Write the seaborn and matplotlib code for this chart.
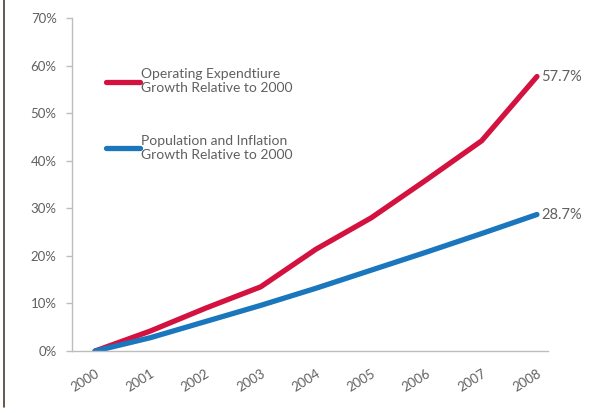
import matplotlib
matplotlib.use("Agg")
import matplotlib.pyplot as plt
import seaborn as sns
import pandas as pd
from matplotlib.lines import Line2D
from matplotlib.ticker import FuncFormatter, FixedLocator

years = [2000, 2001, 2002, 2003, 2004, 2005, 2006, 2007, 2008]
opex_growth = [0.0, 4.2, 9.0, 13.5, 21.4, 28.0, 36.0, 44.2, 57.7]
popinf_growth = [0.0, 2.8, 6.2, 9.6, 13.2, 17.0, 20.8, 24.7, 28.7]
series_names = ["Operating Expendtiure\nGrowth Relative to 2000",
                "Population and Inflation\nGrowth Relative to 2000"]
end_labels = ["57.7%", "28.7%"]
y_ticks = [0, 10, 20, 30, 40, 50, 60, 70]

colors = ["#d3123f", "#1a76bd"]
text_col = "#606060"
axis_col = "#bdbdbd"

df = pd.DataFrame({
    "year": years * 2,
    "value": opex_growth + popinf_growth,
    "series": [series_names[0]] * len(years) + [series_names[1]] * len(years),
})

sns.set_style("white")
plt.rcParams["font.family"] = ["Lato", "DejaVu Sans"]

fig = plt.figure(figsize=(6.03, 4.13), dpi=100)
ax = fig.add_axes([0.1194, 0.150, 0.7894, 0.8064])

sns.lineplot(data=df, x="year", y="value", hue="series", palette=colors,
             linewidth=3.8, ax=ax, legend=False, solid_capstyle="round")

ax.set_xlim(1999.584, 2008.2)
ax.set_ylim(0, 70)
ax.set_xlabel("")
ax.set_ylabel("")

ax.set_yticks(y_ticks)
ax.yaxis.set_major_formatter(FuncFormatter(lambda v, p: f"{v:.0f}%"))
ax.set_xticks(years)
ax.set_xticklabels([str(y) for y in years], rotation=32, ha="right",
                   rotation_mode="anchor")
ax.xaxis.set_minor_locator(FixedLocator([y + 0.5 for y in years[:-1]] + [2008.2]))
ax.tick_params(axis="x", which="major", length=0, pad=12, labelsize=9.5, labelcolor=text_col)
ax.tick_params(axis="x", which="minor", length=4, color=axis_col, width=1, direction="out")
ax.tick_params(axis="y", length=4, color=axis_col, width=1, direction="out",
               labelsize=9.5, labelcolor=text_col, left=True, pad=7)

for s in ["top", "right"]:
    ax.spines[s].set_visible(False)
for s in ["left", "bottom"]:
    ax.spines[s].set_color(axis_col)
    ax.spines[s].set_linewidth(1)

# end value labels
ax.text(years[-1] + 0.08, opex_growth[-1], end_labels[0], color=text_col,
        fontsize=10.5, va="center", ha="left", clip_on=False)
ax.text(years[-1] + 0.08, popinf_growth[-1], end_labels[1], color=text_col,
        fontsize=10.5, va="center", ha="left", clip_on=False)

handles = [Line2D([], [], color=c, linewidth=3.8) for c in colors]
leg = ax.legend(handles, series_names, loc="upper left",
                bbox_to_anchor=(0.046, 0.886), frameon=False,
                handlelength=2.4, handletextpad=0.1, labelspacing=2.9,
                fontsize=10, labelcolor=text_col)

# left frame line of the source document
fig.add_artist(Line2D([0.007, 0.007], [1.0, 0.015], transform=fig.transFigure,
                      color="#4a3b30", linewidth=1.2))

fig.savefig("out.png", dpi=100, facecolor="white")
